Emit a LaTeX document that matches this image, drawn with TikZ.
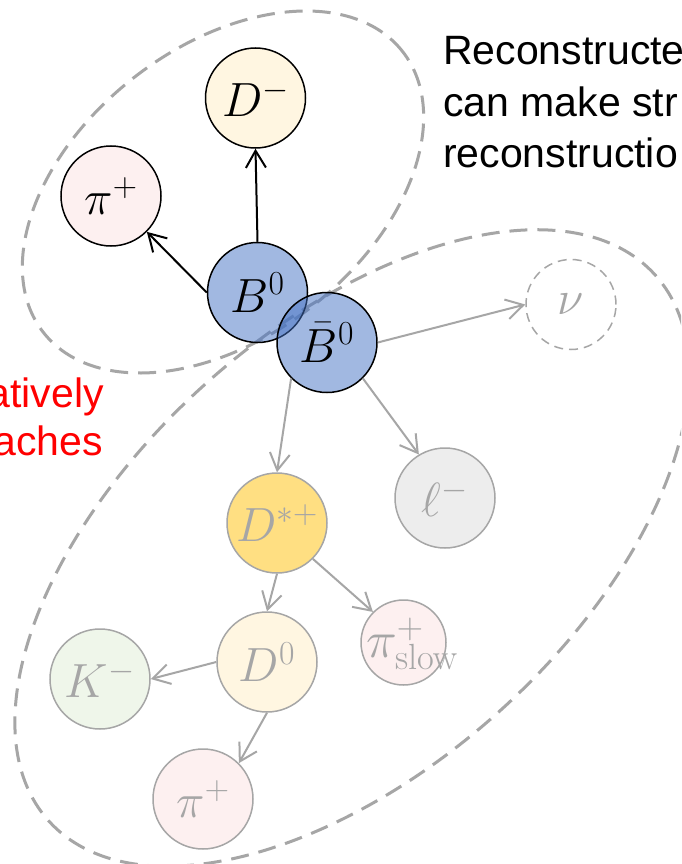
\RequirePackage{fix-cm}
\documentclass[tikz,border=0pt]{standalone}
\usepackage[no-math]{fontspec}
\newfontfamily\arial{Liberation Sans}
\usetikzlibrary{arrows.meta}

\definecolor{bblue}{HTML}{4472C4}
\definecolor{lgray}{HTML}{A6A6A6}
\definecolor{pinkfill}{HTML}{FDF0F0}
\definecolor{creamfill}{HTML}{FFF6E1}
\definecolor{goldfill}{HTML}{FFDF82}
\definecolor{greenfill}{HTML}{EFF6EA}
\definecolor{greyfill}{HTML}{EDEDED}

\tikzset{
  particle/.style={circle, minimum size=100pt, inner sep=0pt, line width=1.5pt,
                   font=\fontsize{48}{56}\selectfont},
  seen/.style={particle, draw=black, text=black},
  meson/.style={seen, fill=bblue, fill opacity=0.5, text opacity=1},
  unseen/.style={particle, draw=lgray, text=lgray},
  decay/.style={line width=2pt, -{Straight Barb[length=17pt,width=20pt]}},
  group/.style={draw=lgray, line width=3pt, dash pattern=on 18pt off 10pt},
  note/.style={inner sep=0pt, font=\arial\fontsize{41}{51}\selectfont},
}

\begin{document}
\begin{tikzpicture}[x=1pt, y=-1pt]
  \useasboundingbox (0,0) rectangle (681,864);
  \fill[white] (0,0) rectangle (681,864);
  \clip (0,0) rectangle (681,864);

  % tagged side and signal side groupings
  \draw[group, rotate around={38:(223,192)}] (223,192) ellipse [x radius=228pt, y radius=145pt];
  \draw[group, rotate around={42:(352,548)}] (352,548) ellipse [x radius=408pt, y radius=220pt];

  % reconstructed B meson decay
  \node[seen, fill=creamfill] (Dm) at (255.5,98) {$D^-$};
  \node[seen, fill=pinkfill] (pit) at (111,196) {$\pi^+$};
  \node[meson] (Bm) at (257.5,292.5) {$B^0$};
  \node[meson] (Bb) at (327,342.5) {$\bar{B}^0$};

  % partner B meson decay chain
  \node[unseen, minimum size=90pt, line width=1.5pt, dash pattern=on 9pt off 6pt] (nu) at (571,304.5) {$\nu$};
  \node[unseen, fill=greyfill] (ell) at (445,498) {$\ell^-$};
  \node[unseen, fill=goldfill] (Dst) at (277,523) {$D^{*+}$};
  \node[unseen, fill=creamfill] (Dz) at (267,662) {$D^0$};
  \node[unseen, fill=greenfill] (Km) at (100,679) {$K^-$};
  \node[unseen, fill=pinkfill, minimum size=85pt] (pis) at (403.5,642.5) {};
  \node[anchor=base west, inner sep=0pt, text=lgray, font=\fontsize{52}{60}\selectfont] (pislabel) at (366,657) {$\pi^+_{\mathrm{slow}}$};
  \node[unseen, fill=pinkfill] (pib) at (203,799) {$\pi^+$};

  % decays
  \draw[decay] (Bm.west) -- (pit.south east);
  \draw[decay] (Bm.north) -- (Dm.south);
  \draw[decay, lgray] (Bb.east) -- (nu.west);
  \draw[decay, lgray] (Bb.south west) -- (Dst.north);
  \draw[decay, lgray] (Bb.south east) -- (ell.121);
  \draw[decay, lgray] (Dst.south) -- (Dz.north);
  \draw[decay, lgray] (Dst.south east) -- (pis.north west);
  \draw[decay, lgray] (Dz.west) -- (Km.east);
  \draw[decay, lgray] (Dz.south) -- (pib.north east);

  % captions
  \node[note, anchor=base west] (t1) at (443,65) {Reconstructe};
  \node[note, anchor=base west] (t2) at (443,117) {can make str};
  \node[note, anchor=base west] (t3) at (443,167) {reconstructio};
  \node[note, anchor=base east, text=red] (r1) at (104,407) {atively};
  \node[note, anchor=base east, text=red] (r2) at (103,455) {aches};
\end{tikzpicture}
\end{document}
